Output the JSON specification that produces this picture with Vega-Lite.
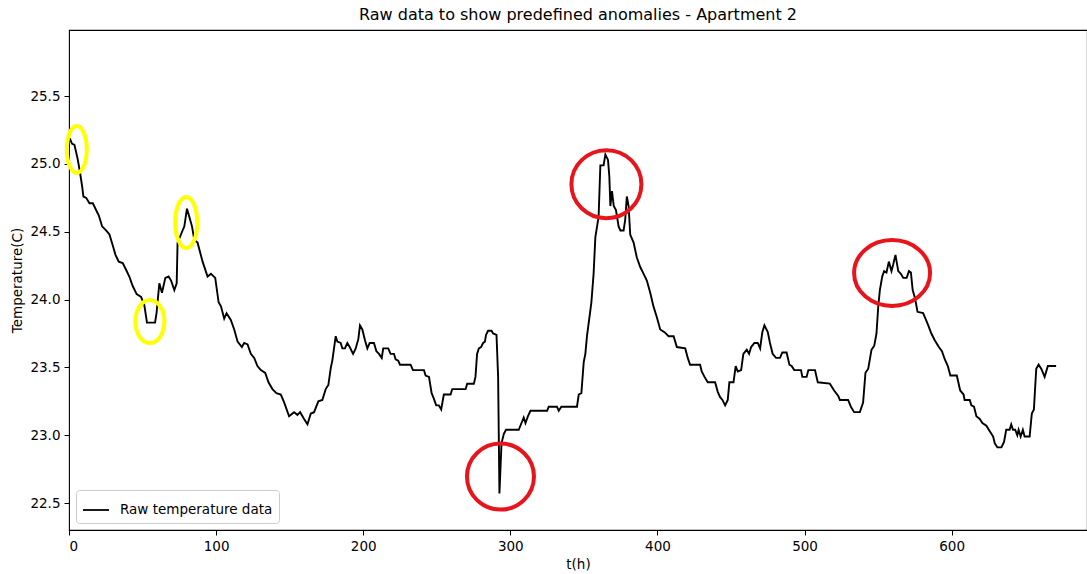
{
  "$schema": "https://vega.github.io/schema/vega-lite/v6.json",
  "width": 1018,
  "height": 500,
  "autosize": "none",
  "padding": {"left": 69, "top": 30, "right": 0, "bottom": 44},
  "background": "white",
  "title": {
    "text": "Raw data to show predefined anomalies - Apartment 2",
    "font": "DejaVu Sans",
    "fontSize": 16,
    "fontWeight": "normal",
    "color": "black",
    "anchor": "middle",
    "offset": 7
  },
  "config": {
    "font": "DejaVu Sans",
    "view": {"stroke": "black", "strokeWidth": 1.1},
    "axis": {
      "grid": false,
      "domain": false,
      "ticks": true,
      "tickColor": "black",
      "tickSize": 5,
      "tickWidth": 1,
      "labelColor": "black",
      "labelFont": "DejaVu Sans",
      "labelFontSize": 13.5,
      "labelPadding": 4,
      "titleColor": "black",
      "titleFont": "DejaVu Sans",
      "titleFontSize": 13.5,
      "titleFontWeight": "normal"
    }
  },
  "datasets": {
    "temps": [
      {"t": 0.5, "temp": 25.19}, {"t": 2, "temp": 25.15}, {"t": 3.7, "temp": 25.14}, {"t": 5, "temp": 25.08},
      {"t": 6, "temp": 25.03}, {"t": 7.6, "temp": 24.93}, {"t": 9, "temp": 24.83}, {"t": 9.8, "temp": 24.76},
      {"t": 11.7, "temp": 24.75}, {"t": 13.9, "temp": 24.71}, {"t": 16.2, "temp": 24.71}, {"t": 18, "temp": 24.67},
      {"t": 20.3, "temp": 24.62}, {"t": 22.5, "temp": 24.54}, {"t": 25.2, "temp": 24.51}, {"t": 27.5, "temp": 24.48},
      {"t": 29.7, "temp": 24.4}, {"t": 31.6, "temp": 24.33}, {"t": 33.8, "temp": 24.28}, {"t": 36.5, "temp": 24.27},
      {"t": 38.8, "temp": 24.22}, {"t": 41, "temp": 24.17}, {"t": 43.3, "temp": 24.1}, {"t": 46, "temp": 24.04},
      {"t": 49, "temp": 24.02}, {"t": 51.2, "temp": 23.96}, {"t": 53, "temp": 23.83}, {"t": 58.5, "temp": 23.83},
      {"t": 59.5, "temp": 23.9}, {"t": 61.4, "temp": 24.12}, {"t": 63.2, "temp": 24.05}, {"t": 65.5, "temp": 24.16},
      {"t": 67.7, "temp": 24.17}, {"t": 69.4, "temp": 24.14}, {"t": 71.6, "temp": 24.07}, {"t": 73.2, "temp": 24.12},
      {"t": 73.8, "temp": 24.42}, {"t": 76.1, "temp": 24.48}, {"t": 78.4, "temp": 24.54}, {"t": 80.2, "temp": 24.67},
      {"t": 81.8, "temp": 24.61}, {"t": 83.6, "temp": 24.54}, {"t": 85.2, "temp": 24.44}, {"t": 87.4, "temp": 24.42},
      {"t": 90.8, "temp": 24.28}, {"t": 94.2, "temp": 24.17}, {"t": 96.5, "temp": 24.19}, {"t": 99.4, "temp": 24.16},
      {"t": 101.7, "temp": 23.98}, {"t": 103.3, "temp": 23.95}, {"t": 105.5, "temp": 23.86}, {"t": 107.1, "temp": 23.9},
      {"t": 110, "temp": 23.85}, {"t": 112.3, "temp": 23.78}, {"t": 114.6, "temp": 23.69}, {"t": 117.5, "temp": 23.65},
      {"t": 119.1, "temp": 23.68}, {"t": 121.4, "temp": 23.67}, {"t": 123.6, "temp": 23.6}, {"t": 125.9, "temp": 23.57},
      {"t": 128.1, "temp": 23.51}, {"t": 130.4, "temp": 23.48}, {"t": 133.4, "temp": 23.46}, {"t": 135.6, "temp": 23.39},
      {"t": 138.3, "temp": 23.34}, {"t": 141, "temp": 23.31}, {"t": 144, "temp": 23.3}, {"t": 146.3, "temp": 23.24},
      {"t": 149.6, "temp": 23.14}, {"t": 153, "temp": 23.17}, {"t": 155.3, "temp": 23.15}, {"t": 157.1, "temp": 23.17},
      {"t": 159.8, "temp": 23.12}, {"t": 162.1, "temp": 23.08}, {"t": 164.4, "temp": 23.16}, {"t": 166.6, "temp": 23.17},
      {"t": 169.5, "temp": 23.25}, {"t": 172.2, "temp": 23.26}, {"t": 174.5, "temp": 23.34}, {"t": 176.3, "temp": 23.37},
      {"t": 178, "temp": 23.5}, {"t": 179, "temp": 23.55}, {"t": 181.3, "temp": 23.73}, {"t": 182.4, "temp": 23.69},
      {"t": 184.7, "temp": 23.68}, {"t": 185.8, "temp": 23.64}, {"t": 187.6, "temp": 23.64}, {"t": 189.2, "temp": 23.68},
      {"t": 190.8, "temp": 23.65}, {"t": 193.1, "temp": 23.6}, {"t": 194.9, "temp": 23.64}, {"t": 196.7, "temp": 23.71},
      {"t": 197.8, "temp": 23.81}, {"t": 199.4, "temp": 23.78}, {"t": 201.2, "temp": 23.7}, {"t": 202.8, "temp": 23.64},
      {"t": 204.4, "temp": 23.68}, {"t": 207.3, "temp": 23.68}, {"t": 208.9, "temp": 23.62}, {"t": 210.7, "temp": 23.6},
      {"t": 212.6, "temp": 23.57}, {"t": 213.6, "temp": 23.64}, {"t": 217, "temp": 23.64}, {"t": 218.6, "temp": 23.6},
      {"t": 220.9, "temp": 23.6}, {"t": 222, "temp": 23.56}, {"t": 223.8, "temp": 23.55}, {"t": 225, "temp": 23.52},
      {"t": 232.2, "temp": 23.52}, {"t": 233.8, "temp": 23.48}, {"t": 241.3, "temp": 23.48}, {"t": 242.4, "temp": 23.44},
      {"t": 244.7, "temp": 23.43}, {"t": 246.5, "temp": 23.31}, {"t": 248, "temp": 23.27}, {"t": 249.6, "temp": 23.22},
      {"t": 251.4, "temp": 23.22}, {"t": 253, "temp": 23.19}, {"t": 254.8, "temp": 23.3}, {"t": 259.4, "temp": 23.3},
      {"t": 260.5, "temp": 23.34}, {"t": 269.6, "temp": 23.34}, {"t": 270.7, "temp": 23.38}, {"t": 275.2, "temp": 23.38},
      {"t": 276.3, "temp": 23.43}, {"t": 277.4, "temp": 23.6}, {"t": 278.6, "temp": 23.64}, {"t": 280.1, "temp": 23.65},
      {"t": 281.5, "temp": 23.68}, {"t": 282.7, "temp": 23.69}, {"t": 283.5, "temp": 23.74}, {"t": 284.9, "temp": 23.77},
      {"t": 287.2, "temp": 23.77}, {"t": 288.3, "temp": 23.75}, {"t": 290.6, "temp": 23.74}, {"t": 291.7, "temp": 23.43},
      {"t": 292.6, "temp": 22.57}, {"t": 294, "temp": 22.94}, {"t": 295.6, "temp": 23.01}, {"t": 297.1, "temp": 23.04},
      {"t": 305.7, "temp": 23.04}, {"t": 307.6, "temp": 23.09}, {"t": 309.1, "temp": 23.13}, {"t": 310.3, "temp": 23.09},
      {"t": 312, "temp": 23.14}, {"t": 313.7, "temp": 23.18}, {"t": 325, "temp": 23.18}, {"t": 326.1, "temp": 23.21},
      {"t": 331.7, "temp": 23.21}, {"t": 332.9, "temp": 23.18}, {"t": 334.7, "temp": 23.21}, {"t": 345.3, "temp": 23.21},
      {"t": 346.5, "temp": 23.3}, {"t": 348.3, "temp": 23.31}, {"t": 349.9, "temp": 23.54}, {"t": 351, "temp": 23.6},
      {"t": 352.1, "temp": 23.73}, {"t": 355.1, "temp": 23.98}, {"t": 356.6, "temp": 24.19}, {"t": 357.8, "temp": 24.46},
      {"t": 360, "temp": 24.61}, {"t": 361.2, "temp": 24.99}, {"t": 363.4, "temp": 24.99}, {"t": 364.6, "temp": 25.07},
      {"t": 366.4, "temp": 25.03}, {"t": 367.3, "temp": 24.91}, {"t": 368, "temp": 24.69}, {"t": 369.1, "temp": 24.8},
      {"t": 370.3, "temp": 24.69}, {"t": 371.8, "temp": 24.66}, {"t": 373.6, "temp": 24.54}, {"t": 374.8, "temp": 24.51},
      {"t": 377, "temp": 24.51}, {"t": 378.1, "temp": 24.59}, {"t": 379.2, "temp": 24.76}, {"t": 380.4, "temp": 24.69},
      {"t": 381.5, "temp": 24.48}, {"t": 383.8, "temp": 24.42}, {"t": 386, "temp": 24.31}, {"t": 388.3, "temp": 24.24},
      {"t": 390.6, "temp": 24.19}, {"t": 392.8, "temp": 24.14}, {"t": 395.1, "temp": 24.05}, {"t": 397.3, "temp": 23.95},
      {"t": 399.6, "temp": 23.87}, {"t": 401.9, "temp": 23.78}, {"t": 404.8, "temp": 23.76}, {"t": 407.6, "temp": 23.73},
      {"t": 411, "temp": 23.73}, {"t": 413.2, "temp": 23.65}, {"t": 418.9, "temp": 23.64}, {"t": 420.6, "temp": 23.57},
      {"t": 422.2, "temp": 23.52}, {"t": 429, "temp": 23.52}, {"t": 430.1, "temp": 23.47}, {"t": 432, "temp": 23.43},
      {"t": 434.2, "temp": 23.39}, {"t": 439.2, "temp": 23.39}, {"t": 441, "temp": 23.32}, {"t": 442.6, "temp": 23.28},
      {"t": 444.2, "temp": 23.26}, {"t": 446, "temp": 23.22}, {"t": 447.8, "temp": 23.26}, {"t": 448.9, "temp": 23.39},
      {"t": 451.7, "temp": 23.39}, {"t": 453.2, "temp": 23.51}, {"t": 454.6, "temp": 23.47}, {"t": 456.9, "temp": 23.48},
      {"t": 458.4, "temp": 23.6}, {"t": 460.7, "temp": 23.63}, {"t": 462.3, "temp": 23.6}, {"t": 463.7, "temp": 23.65},
      {"t": 465.9, "temp": 23.68}, {"t": 468.2, "temp": 23.68}, {"t": 469.8, "temp": 23.64}, {"t": 471.3, "temp": 23.76},
      {"t": 472.7, "temp": 23.81}, {"t": 475, "temp": 23.76}, {"t": 476.5, "temp": 23.68}, {"t": 478.3, "temp": 23.6},
      {"t": 480.6, "temp": 23.57}, {"t": 483.3, "temp": 23.57}, {"t": 484.9, "temp": 23.61}, {"t": 487.8, "temp": 23.61},
      {"t": 489.7, "temp": 23.52}, {"t": 491.2, "temp": 23.51}, {"t": 493, "temp": 23.48}, {"t": 497.6, "temp": 23.48},
      {"t": 498.5, "temp": 23.43}, {"t": 501.4, "temp": 23.43}, {"t": 502.6, "temp": 23.48}, {"t": 507.1, "temp": 23.48},
      {"t": 509, "temp": 23.39}, {"t": 517.2, "temp": 23.38}, {"t": 520.1, "temp": 23.33}, {"t": 522.9, "temp": 23.29},
      {"t": 524, "temp": 23.26}, {"t": 529.6, "temp": 23.26}, {"t": 531.5, "temp": 23.21}, {"t": 533.7, "temp": 23.17},
      {"t": 537.6, "temp": 23.17}, {"t": 539.8, "temp": 23.24}, {"t": 541.4, "temp": 23.46}, {"t": 543.3, "temp": 23.49},
      {"t": 545.5, "temp": 23.63}, {"t": 547.4, "temp": 23.66}, {"t": 548.9, "temp": 23.75}, {"t": 550.1, "temp": 23.95},
      {"t": 551.2, "temp": 24.07}, {"t": 552.8, "temp": 24.17}, {"t": 554.1, "temp": 24.21}, {"t": 555.7, "temp": 24.2},
      {"t": 557.3, "temp": 24.28}, {"t": 559.1, "temp": 24.21}, {"t": 560.3, "temp": 24.26}, {"t": 561.8, "temp": 24.33},
      {"t": 563.7, "temp": 24.21}, {"t": 565.5, "temp": 24.19}, {"t": 567.1, "temp": 24.16}, {"t": 569.4, "temp": 24.16},
      {"t": 571, "temp": 24.21}, {"t": 572.3, "temp": 24.2}, {"t": 573.5, "temp": 24.07}, {"t": 575.1, "temp": 24.01},
      {"t": 576.8, "temp": 23.91}, {"t": 580.6, "temp": 23.9}, {"t": 582.2, "temp": 23.86}, {"t": 584.1, "temp": 23.81},
      {"t": 586.2, "temp": 23.75}, {"t": 588.5, "temp": 23.7}, {"t": 591.3, "temp": 23.65}, {"t": 593.4, "temp": 23.62},
      {"t": 595.3, "temp": 23.56}, {"t": 597.4, "temp": 23.51}, {"t": 599.1, "temp": 23.44}, {"t": 603.5, "temp": 23.44},
      {"t": 605.8, "temp": 23.33}, {"t": 608.1, "temp": 23.3}, {"t": 608.8, "temp": 23.26}, {"t": 612.3, "temp": 23.26},
      {"t": 613.4, "temp": 23.22}, {"t": 615.2, "temp": 23.21}, {"t": 616.8, "temp": 23.14}, {"t": 619.1, "temp": 23.12},
      {"t": 620.9, "temp": 23.09}, {"t": 623.6, "temp": 23.07}, {"t": 625.9, "temp": 23.03}, {"t": 628.2, "temp": 22.99},
      {"t": 629.3, "temp": 22.94}, {"t": 631.1, "temp": 22.91}, {"t": 633.8, "temp": 22.91}, {"t": 635.6, "temp": 22.95},
      {"t": 637.1, "temp": 23.04}, {"t": 639.4, "temp": 23.04}, {"t": 640.5, "temp": 23.08}, {"t": 641.7, "temp": 23.04},
      {"t": 643.2, "temp": 23.04}, {"t": 644.6, "temp": 23.0}, {"t": 645.5, "temp": 23.04}, {"t": 646.9, "temp": 22.99},
      {"t": 648.4, "temp": 23.04}, {"t": 649.6, "temp": 22.99}, {"t": 653, "temp": 22.99}, {"t": 654.5, "temp": 23.16},
      {"t": 655.9, "temp": 23.19}, {"t": 657.5, "temp": 23.49}, {"t": 659.1, "temp": 23.52}, {"t": 660.9, "temp": 23.49},
      {"t": 663.2, "temp": 23.43}, {"t": 665.4, "temp": 23.51}, {"t": 671, "temp": 23.51}
    ],
    "anomalies": [
      {"id": "a1", "t": 5.3, "temp": 25.107},
      {"id": "a2", "t": 55.0, "temp": 23.838},
      {"id": "a3", "t": 79.7, "temp": 24.569},
      {"id": "a4", "t": 293.3, "temp": 22.695},
      {"id": "a5", "t": 365.3, "temp": 24.851},
      {"id": "a6", "t": 559.5, "temp": 24.196}
    ]
  },
  "encoding": {
    "x": {
      "field": "t",
      "type": "quantitative",
      "scale": {"domain": [0, 692], "nice": false, "zero": false},
      "axis": {"values": [0, 100, 200, 300, 400, 500, 600], "format": "d", "title": "t(h)", "titlePadding": 5}
    },
    "y": {
      "field": "temp",
      "type": "quantitative",
      "scale": {"domain": [22.301, 25.988], "nice": false, "zero": false},
      "axis": {"values": [22.5, 23.0, 23.5, 24.0, 24.5, 25.0, 25.5], "format": ".1f", "title": "Temperature(C)", "titlePadding": 5}
    }
  },
  "layer": [
    {
      "data": {"name": "temps"},
      "mark": {"type": "line", "strokeWidth": 1.9, "interpolate": "linear"},
      "encoding": {
        "stroke": {
          "datum": "Raw temperature data",
          "type": "nominal",
          "scale": {"range": ["black"]},
          "legend": {
            "title": null,
            "orient": "bottom-left",
            "offset": 7,
            "padding": 6,
            "strokeColor": "#cccccc",
            "fillColor": "white",
            "cornerRadius": 3,
            "symbolType": "stroke",
            "symbolSize": 676,
            "symbolStrokeWidth": 1.8,
            "labelFont": "DejaVu Sans",
            "labelFontSize": 13.5,
            "labelColor": "black",
            "labelOffset": 10
          }
        }
      }
    },
    {
      "data": {"name": "anomalies"},
      "transform": [{"filter": "datum.id === 'a1'"}],
      "mark": {"type": "point", "shape": "M -10 0 A 10 23.5 0 1 1 10 0 A 10 23.5 0 1 1 -10 0 Z", "size": 4, "filled": false, "color": "#ffff00", "stroke": "#ffff00", "strokeWidth": 4, "opacity": 1}
    },
    {
      "data": {"name": "anomalies"},
      "transform": [{"filter": "datum.id === 'a2'"}],
      "mark": {"type": "point", "shape": "M -14.5 0 A 14.5 21.5 0 1 1 14.5 0 A 14.5 21.5 0 1 1 -14.5 0 Z", "size": 4, "filled": false, "color": "#ffff00", "stroke": "#ffff00", "strokeWidth": 4, "opacity": 1}
    },
    {
      "data": {"name": "anomalies"},
      "transform": [{"filter": "datum.id === 'a3'"}],
      "mark": {"type": "point", "shape": "M -11 0 A 11 25.5 0 1 1 11 0 A 11 25.5 0 1 1 -11 0 Z", "size": 4, "filled": false, "color": "#ffff00", "stroke": "#ffff00", "strokeWidth": 4, "opacity": 1}
    },
    {
      "data": {"name": "anomalies"},
      "transform": [{"filter": "datum.id === 'a4'"}],
      "mark": {"type": "point", "shape": "M -33.5 0 A 33.5 33 0 1 1 33.5 0 A 33.5 33 0 1 1 -33.5 0 Z", "size": 4, "filled": false, "color": "#e8141b", "stroke": "#e8141b", "strokeWidth": 4, "opacity": 1}
    },
    {
      "data": {"name": "anomalies"},
      "transform": [{"filter": "datum.id === 'a5'"}],
      "mark": {"type": "point", "shape": "M -35 0 A 35 34 0 1 1 35 0 A 35 34 0 1 1 -35 0 Z", "size": 4, "filled": false, "color": "#e8141b", "stroke": "#e8141b", "strokeWidth": 4, "opacity": 1}
    },
    {
      "data": {"name": "anomalies"},
      "transform": [{"filter": "datum.id === 'a6'"}],
      "mark": {"type": "point", "shape": "M -38 0 A 38 33 0 1 1 38 0 A 38 33 0 1 1 -38 0 Z", "size": 4, "filled": false, "color": "#e8141b", "stroke": "#e8141b", "strokeWidth": 4, "opacity": 1}
    }
  ]
}
